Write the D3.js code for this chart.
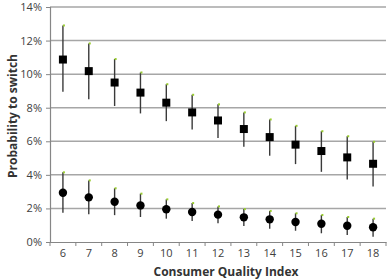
<head>
    <meta name="viewport" content="width=device-width, initial-scale=1">
    <style>
        body { margin: 0; background: #fff; }
        .tick text { font-family: "Open Sans", sans-serif; font-size: 11px; fill: #404040; }
        .title { font-family: "Open Sans", sans-serif; font-size: 12px; font-weight: 700; fill: #333; }
    </style>
    <script src="https://d3js.org/d3.v7.min.js"></script>
</head>
<body>
    <div id="chart"></div>
    <script>
        // Consumer Quality Index categories
        var cqi = [6, 7, 8, 9, 10, 11, 12, 13, 14, 15, 16, 17, 18];

        // upper series (squares): estimate, lower and upper bound, in %
        var sqMid = [10.87, 10.18, 9.5, 8.9, 8.3, 7.72, 7.24, 6.73, 6.25, 5.8, 5.42, 5.04, 4.66];
        var sqLow = [8.95, 8.5, 8.1, 7.66, 7.2, 6.7, 6.2, 5.67, 5.14, 4.64, 4.18, 3.73, 3.3];
        var sqHigh = [12.9, 11.83, 10.9, 10.1, 9.4, 8.77, 8.2, 7.72, 7.3, 6.92, 6.6, 6.3, 5.97];

        // lower series (circles)
        var ciMid = [2.93, 2.66, 2.4, 2.18, 1.95, 1.79, 1.63, 1.47, 1.35, 1.19, 1.09, 0.97, 0.88];
        var ciLow = [1.74, 1.65, 1.6, 1.49, 1.39, 1.25, 1.11, 0.95, 0.79, 0.67, 0.52, 0.42, 0.32];
        var ciHigh = [4.15, 3.67, 3.2, 2.88, 2.54, 2.32, 2.12, 1.96, 1.85, 1.71, 1.61, 1.49, 1.39];

        var yTicks = [0, 2, 4, 6, 8, 10, 12, 14];

        var W = 388, H = 280;
        var margin = {top: 7, right: 2, bottom: 38, left: 50};
        var width = W - margin.left - margin.right,
            height = H - margin.top - margin.bottom;

        var svg = d3.select("#chart").append("svg")
            .attr("width", W)
            .attr("height", H);

        var focus = svg.append("g")
            .attr("transform", "translate(" + margin.left + "," + margin.top + ")");

        var x = d3.scaleBand()
            .domain(cqi)
            .range([0, width]);

        var y = d3.scaleLinear()
            .domain([0, 14])
            .range([height, 0]);

        // gridlines
        focus.append("g")
            .selectAll("line")
            .data(yTicks.filter(d => d > 0))
            .join("line")
            .attr("x1", 0)
            .attr("x2", width)
            .attr("y1", d => y(d))
            .attr("y2", d => y(d))
            .attr("stroke", "#a6a6a6")
            .attr("stroke-width", 1.5);

        var yx = focus.append("g")
            .call(d3.axisLeft(y).tickValues(yTicks).tickSize(4).tickPadding(4).tickFormat(d => d + "%"));

        var xx = focus.append("g")
            .attr("transform", "translate(0," + height + ")")
            .call(d3.axisBottom(x).tickSize(0).tickPadding(7));

        // tick marks between categories
        xx.append("g")
            .selectAll("line")
            .data(d3.range(cqi.length + 1))
            .join("line")
            .attr("x1", d => d * x.step())
            .attr("x2", d => d * x.step())
            .attr("y1", 0)
            .attr("y2", 4)
            .attr("stroke", "#868686");

        focus.selectAll(".domain").attr("stroke", "#868686").attr("stroke-width", 1.2);
        yx.selectAll(".tick line").attr("stroke", "#868686");

        function addSeries(mid, low, high, shape) {
            var g = focus.append("g");
            var cx = (d, i) => x(cqi[i]) + x.bandwidth() / 2;

            g.selectAll(".bar")
                .data(mid)
                .join("line")
                .attr("x1", cx)
                .attr("x2", cx)
                .attr("y1", (d, i) => y(low[i]))
                .attr("y2", (d, i) => y(high[i]))
                .attr("stroke", "#3a3a3a")
                .attr("stroke-width", 1.4);

            g.selectAll(".cap")
                .data(high)
                .join("rect")
                .attr("x", (d, i) => cx(d, i))
                .attr("y", d => y(d) - 1)
                .attr("width", 2)
                .attr("height", 2)
                .attr("fill", "#9acd32");

            if (shape == "square") {
                g.selectAll(".mk")
                    .data(mid)
                    .join("rect")
                    .attr("x", (d, i) => cx(d, i) - 4)
                    .attr("y", d => y(d) - 4)
                    .attr("width", 8)
                    .attr("height", 8)
                    .attr("fill", "#000");
            } else {
                g.selectAll(".mk")
                    .data(mid)
                    .join("circle")
                    .attr("cx", cx)
                    .attr("cy", d => y(d))
                    .attr("r", 4.2)
                    .attr("fill", "#000");
            }
        }

        addSeries(sqMid, sqLow, sqHigh, "square");
        addSeries(ciMid, ciLow, ciHigh, "circle");

        svg.append("text")
            .attr("class", "title")
            .attr("x", 226)
            .attr("y", 276)
            .attr("text-anchor", "middle")
            .text("Consumer Quality Index");

        svg.append("text")
            .attr("class", "title")
            .attr("transform", "translate(17,116) rotate(-90)")
            .attr("text-anchor", "middle")
            .text("Probability to switch");
    </script>
</body>
